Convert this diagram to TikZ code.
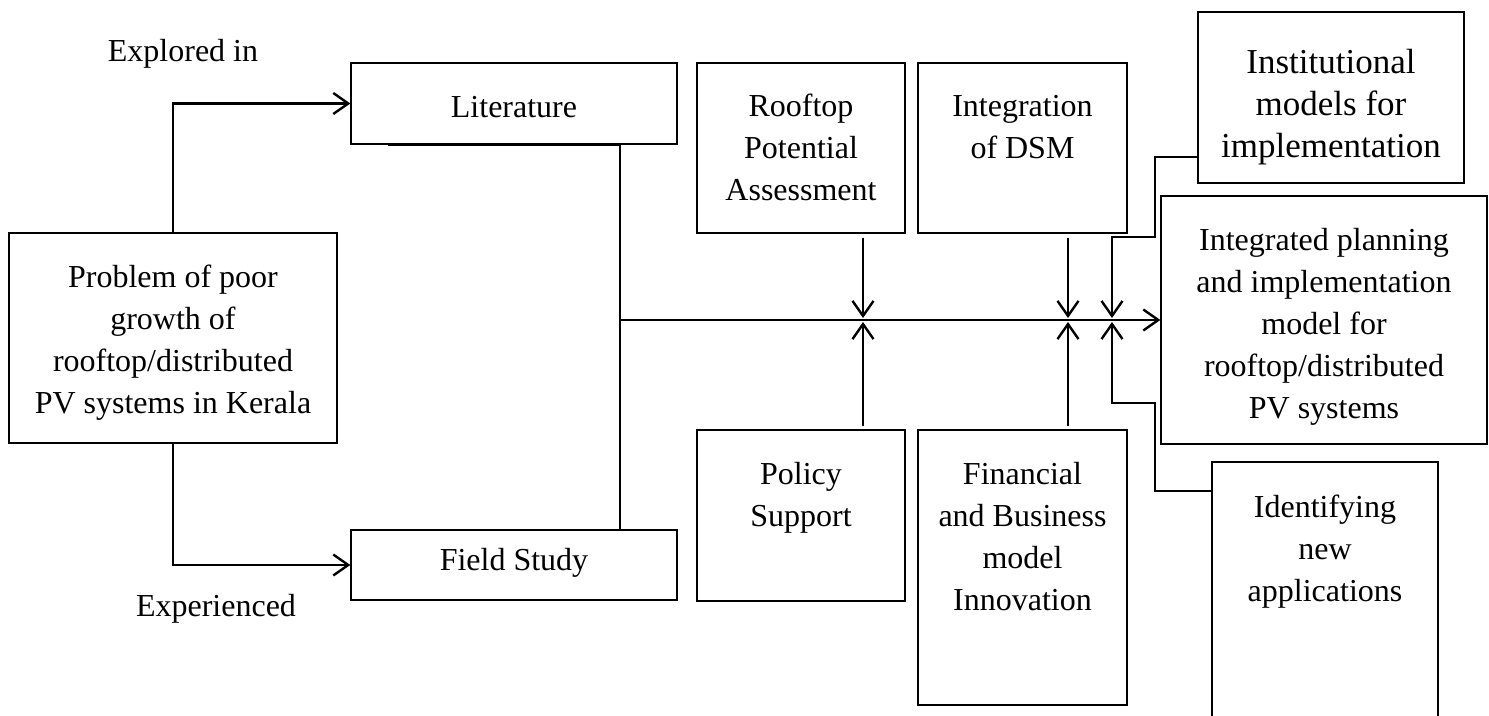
\documentclass[tikz,border=0pt]{standalone}
\usepackage{fontspec}
\setmainfont{Liberation Serif}
\usetikzlibrary{arrows.meta,fit,calc}
\begin{document}
\begin{tikzpicture}[x=0.5pt,y=-0.5pt,
  box/.style={draw, line width=0.65pt, inner sep=0pt},
  txt/.style={align=center, inner sep=0pt, font=\fontsize{16}{21}\selectfont},
  conn/.style={line width=1.2pt},
  arr/.style={conn, -{Straight Barb[length=7.5pt,width=10.5pt,line width=1.2pt]}}]
\useasboundingbox (0,0) rectangle (1489,716);

% boxes
\node[box, fit={(9,233)(337,443)}] (prob) {};
\node[box, fit={(351,63)(677,144)}] (lit) {};
\node[box, fit={(351,530)(677,600)}] (field) {};
\node[box, fit={(697,63)(905,233)}] (roof) {};
\node[box, fit={(918,63)(1127,233)}] (dsm) {};
\node[box, fit={(697,430)(905,601)}] (policy) {};
\node[box, fit={(918,430)(1127,705)}] (fin) {};
\node[box, fit={(1198,12)(1464,183)}] (inst) {};
\node[box, fit={(1161,196)(1487,444)}] (integ) {};
\node[box, fit={(1212,462)(1438,740)}] (ident) {};

% texts
\node[txt, anchor=north] (probt) at ([yshift=-12.8pt]prob.north) {\strut Problem of poor\\growth of\\rooftop/distributed\\PV systems in Kerala};
\node[txt, anchor=base] (litt) at (514,118) {Literature};
\node[txt, anchor=base] (fieldt) at (514,570) {Field Study};
\node[txt, anchor=north] (rooft) at ([yshift=-12.3pt]roof.north) {\strut Rooftop\\Potential\\Assessment};
\node[txt, anchor=north] (dsmt) at ([yshift=-12.3pt]dsm.north) {\strut Integration\\of DSM};
\node[txt, anchor=north] (policyt) at ([yshift=-12.8pt]policy.north) {\strut Policy\\Support};
\node[txt, anchor=north] (fint) at ([yshift=-12.8pt]fin.north) {\strut Financial\\and Business\\model\\Innovation};
\node[txt, anchor=north, font=\fontsize{17.5}{21}\selectfont] (instt) at ([yshift=-16.3pt]inst.north) {\strut Institutional\\models for\\implementation};
\node[txt, anchor=north] (integt) at ([yshift=-12.8pt]integ.north) {\strut Integrated planning\\and implementation\\model for\\rooftop/distributed\\PV systems};
\node[txt, anchor=north] (identt) at ([yshift=-13.3pt]ident.north) {\strut Identifying\\new\\applications};

\node[txt, anchor=base] (expl) at (183,62) {Explored in};
\node[txt, anchor=base] (expe) at (216,617) {Experienced};

% junction coordinates
\coordinate (j) at (620,320);
\coordinate (l1) at (388,144);
\coordinate (a1) at (863,320);
\coordinate (a2) at (1068,320);
\coordinate (a3) at (1112,320);
\coordinate (c1) at (1155,157);
\coordinate (c2) at (1112,237);
\coordinate (c3) at (1155,491);
\coordinate (c4) at (1112,403);

% connectors
\draw[arr] (prob.north) |- (lit.west);
\draw[arr] (prob.south) |- (field.west);
\draw[conn] (l1 |- lit.south) -| (j |- field.north);
\draw[arr] (j) -- (integ.west |- j);

\draw[arr] ([yshift=-2pt]roof.south -| a1) -- ([yshift=1pt]a1);
\draw[arr] ([yshift=1.5pt]policy.north -| a1) -- ([yshift=-1pt]a1);
\draw[arr] ([yshift=-2pt]dsm.south -| a2) -- ([yshift=1pt]a2);
\draw[arr] ([yshift=1.5pt]fin.north -| a2) -- ([yshift=-1pt]a2);

\draw[arr] (inst.west |- c1) -- (c1) |- (c2) -- ([yshift=1pt]a3);
\draw[arr] (ident.west |- c3) -- (c3) |- (c4) -- ([yshift=-1pt]a3);
\end{tikzpicture}
\end{document}
